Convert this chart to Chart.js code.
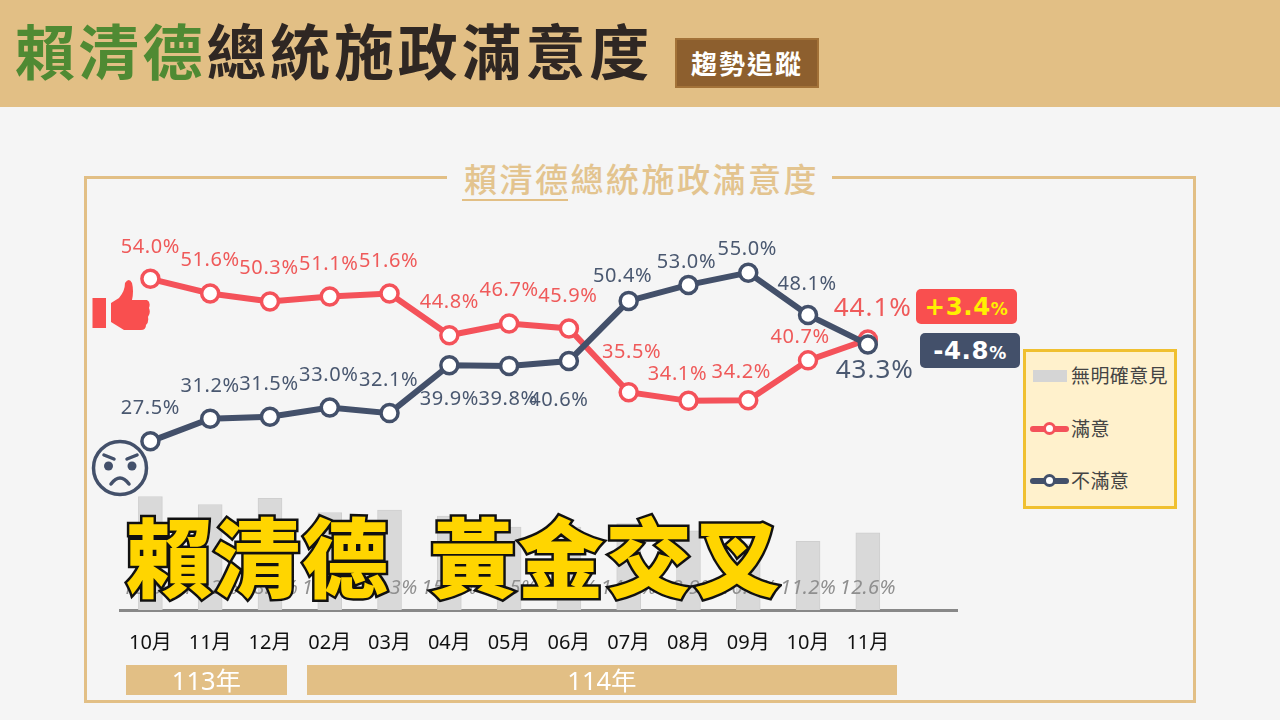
<!DOCTYPE html>
<html lang="zh-Hant">
<head>
    <meta charset="UTF-8">
    <title>賴清德總統施政滿意度</title>
    <style>
        html, body { margin: 0; padding: 0; }
        body {
            width: 1280px; height: 720px; position: relative; overflow: hidden;
            background: #f5f5f5;
            font-family: "Noto Sans", "Noto Sans CJK TC", sans-serif;
        }
        .abs { position: absolute; white-space: nowrap; }
        canvas { position: absolute; left: 0; top: 0; }
        #header { left: 0; top: 0; width: 1280px; height: 107px; background: #e2bf85; }
        #headTitle {
            left: 15px; top: 9px; font: 700 60px/80px "Noto Sans CJK TC"; letter-spacing: 3.8px; color: #2f2723;
        }
        #headTitle span { color: #4f8a33; }
        #badge {
            left: 675px; top: 38px; width: 140px; height: 46px; background: #8d5f2e; border: 2px solid #a37238;
            color: #fff; font: 700 26px/46px "Noto Sans CJK TC"; letter-spacing: 2px; text-align: center;
        }
        #frame { left: 84px; top: 176px; width: 1106px; height: 521px; border: 3px solid #e2bf85; }
        #frameTitle {
            left: 449px; top: 156px; width: 385px; height: 44px; text-align: center;
            color: #e3c48f; font: 500 33px/44px "Noto Sans CJK TC"; letter-spacing: 2.5px;
        }
        #frameGap { left: 447px; top: 170px; width: 385px; height: 14px; background: #f5f5f5; }
        #frameRule { left: 462px; top: 199px; width: 106px; height: 2px; background: #e2bf85; }
        .year { height: 30px; top: 665px; background: #e2bf85; color: #fff; text-align: center; font-size: 25.5px; line-height: 30px; }
        .delta {
            width: 101px; height: 35px; border-radius: 5px; text-align: center;
            font: 700 24.5px/35px "DejaVu Sans"; letter-spacing: 0.6px;
        }
        .delta small { font-size: 17px; }
        #legend {
            left: 1023px; top: 349px; width: 148px; height: 154px;
            background: #fff1cc; border: 3px solid #f0c030;
        }
        .legText { left: 1071px; font: 400 19px/26px "Noto Sans CJK TC"; color: #444; letter-spacing: 0.4px; }
        .legLine { left: 1030px; width: 39px; height: 6px; border-radius: 3px; }
        .legDot { left: 1043px; width: 7px; height: 7px; border-radius: 50%; background: #fff; border: 3.5px solid; }
        #bigTitle {
            left: 126px; top: 495px; font: 900 86px/118px "Noto Sans CJK TC"; color: #ffd500; letter-spacing: 2px;
            -webkit-text-stroke: 5px #111; paint-order: stroke fill; word-spacing: 18px;
        }
    </style>
    <script src="https://cdn.jsdelivr.net/npm/chart.js"></script>
</head>
<body>
    <div class="abs" id="header"></div>
    <div class="abs" id="headTitle"><span>賴清德</span>總統施政滿意度</div>
    <div class="abs" id="badge">趨勢追蹤</div>

    <div class="abs" id="frame"></div>
    <div class="abs" id="frameGap"></div>
    <div class="abs" id="frameTitle">賴清德總統施政滿意度</div>
    <div class="abs" id="frameRule"></div>

    <canvas id="trendChart" width="1280" height="720"></canvas>

    <div class="abs year" style="left:126px;width:161px">113年</div>
    <div class="abs year" style="left:307px;width:590px">114年</div>

    <div class="abs delta" style="left:916px;top:289px;background:#f94f4f;color:#fff000">+3.4<small>%</small></div>
    <div class="abs delta" style="left:920px;top:333px;width:100px;background:#43506a;color:#fff">-4.8<small>%</small></div>

    <div class="abs" id="legend"></div>
    <div class="abs" style="left:1033px;top:370px;width:34px;height:12px;background:#d5d5d5"></div>
    <div class="abs legText" style="top:362px">無明確意見</div>
    <div class="abs legLine" style="top:426px;background:#f4525a"></div>
    <div class="abs legDot" style="top:422px;border-color:#f4525a"></div>
    <div class="abs legText" style="top:415px">滿意</div>
    <div class="abs legLine" style="top:478px;background:#43506a"></div>
    <div class="abs legDot" style="top:474px;border-color:#43506a"></div>
    <div class="abs legText" style="top:467px">不滿意</div>

    <!-- thumb icon -->
    <svg class="abs" style="left:90px;top:278px" width="62" height="54" viewBox="90 278 62 54">
        <rect x="92.5" y="298" width="13.5" height="30" fill="#f94f4f"/>
        <path fill="#f94f4f" d="M111 303 L119 298 Q125 291 125 283 Q129 277 132 283 Q134 291 132 300 L147 300 Q151 302 149 308 Q151 313 148 317 Q149 322 146 325 Q146 330 141 330 L124 330 L111 322 Z"/>
    </svg>
    <!-- angry face icon -->
    <svg class="abs" style="left:90px;top:438px" width="60" height="60" viewBox="90 438 60 60">
        <circle cx="120" cy="468" r="26.5" fill="none" stroke="#43506a" stroke-width="3.5"/>
        <circle cx="108.5" cy="466" r="4.5" fill="#43506a"/>
        <circle cx="132" cy="466" r="4.5" fill="#43506a"/>
        <path d="M104 455 L114 459 M137 455 L127 459" stroke="#43506a" stroke-width="3.5" stroke-linecap="round"/>
        <path d="M111 484 Q120 472 129 484" fill="none" stroke="#43506a" stroke-width="3.5" stroke-linecap="round"/>
    </svg>

    <div class="abs" id="bigTitle">賴清德 黃金交叉</div>

    <script>
        // last empty category keeps the axis running on past 11月
        const months = ['10月', '11月', '12月', '02月', '03月', '04月', '05月', '06月', '07月', '08月', '09月', '10月', '11月', ''];
        const satisfied = [54.0, 51.6, 50.3, 51.1, 51.6, 44.8, 46.7, 45.9, 35.5, 34.1, 34.2, 40.7, 44.1];
        const dissatisfied = [27.5, 31.2, 31.5, 33.0, 32.1, 39.9, 39.8, 40.6, 50.4, 53.0, 55.0, 48.1, 43.3];
        const noOpinion = [18.5, 17.2, 18.2, 15.9, 16.3, 15.3, 13.5, 13.5, 14.1, 12.9, 10.8, 11.2, 12.6];

        // label nudges from the point, in pixels
        const satLabelDx = [0, 0, -1, -1, -1, 0, 0, -1, 3, -11, -7, -8, 5];
        const satLabelDy = [-32, -33, -33, -32, -32, -33, -33, -32, -40, -27, -28, -23, -31];
        const disLabelDx = [0, 0, -1, -1, -1, 0, -1, -10, -6, -2, -1, -1, 7];
        const disLabelDy = [-33, -32, -33, -32, -33, 34, 33, 39, -25, -23, -23, -31, 26];

        const RED = '#f4525a';
        const NAVY = '#43506a';
        const FONT = '"Noto Sans", "Noto Sans CJK TC", sans-serif';

        function drawSeriesLabels(ctx, chart, values, dx, dy, color) {
            const xs = chart.scales.x;
            const ys = chart.scales.y;
            ctx.fillStyle = color;
            values.forEach((v, i) => {
                const last = i === values.length - 1;
                ctx.font = (last ? 26 : 20) + 'px ' + FONT;
                ctx.letterSpacing = last ? '1px' : '0.6px';
                ctx.fillText(v.toFixed(1) + '%', xs.getPixelForValue(i) + dx[i], ys.getPixelForValue(v) + dy[i]);
            });
        }

        const valueLabels = {
            id: 'valueLabels',
            afterDatasetsDraw(chart) {
                const ctx = chart.ctx;
                ctx.save();
                ctx.textAlign = 'center';
                ctx.textBaseline = 'middle';
                // no-opinion labels sit in one row just above the axis
                ctx.fillStyle = '#8f8f8f';
                ctx.font = 'italic 20px ' + FONT;
                ctx.letterSpacing = '0.4px';
                noOpinion.forEach((v, i) => {
                    ctx.fillText(v.toFixed(1) + '%', chart.scales.x.getPixelForValue(i), 588);
                });
                drawSeriesLabels(ctx, chart, satisfied, satLabelDx, satLabelDy, '#ef5a5a');
                drawSeriesLabels(ctx, chart, dissatisfied, disLabelDx, disLabelDy, '#4a5870');
                ctx.restore();
            }
        };

        new Chart(document.getElementById('trendChart').getContext('2d'), {
            data: {
                labels: months,
                datasets: [
                    {
                        type: 'bar', label: '無明確意見', data: noOpinion, order: 3,
                        backgroundColor: '#d9d9d9', borderColor: '#cfcfcf', borderWidth: 1, barThickness: 24
                    },
                    {
                        type: 'line', label: '滿意', data: satisfied, order: 2,
                        borderColor: RED, borderWidth: 6, tension: 0,
                        pointRadius: 8.5, pointBorderWidth: 3.5, pointBackgroundColor: '#fff', pointBorderColor: RED
                    },
                    {
                        type: 'line', label: '不滿意', data: dissatisfied, order: 1,
                        borderColor: NAVY, borderWidth: 6, tension: 0,
                        pointRadius: 8.5, pointBorderWidth: 3.5, pointBackgroundColor: '#fff', pointBorderColor: NAVY
                    }
                ]
            },
            options: {
                responsive: false,
                animation: false,
                layout: { padding: { left: 120.5, right: 322.5, top: 242, bottom: 50 } },
                plugins: { legend: { display: false }, tooltip: { enabled: false } },
                scales: {
                    x: {
                        offset: true,
                        grid: { display: false },
                        border: { color: '#888', width: 3 },
                        afterFit(scale) { scale.height = 60; },
                        ticks: {
                            color: '#111', padding: 13, maxRotation: 0, autoSkip: false,
                            font: { family: FONT, size: 20 }
                        }
                    },
                    y: { display: false, min: 0, max: 60 }
                }
            },
            plugins: [valueLabels]
        });
    </script>
</body>
</html>
